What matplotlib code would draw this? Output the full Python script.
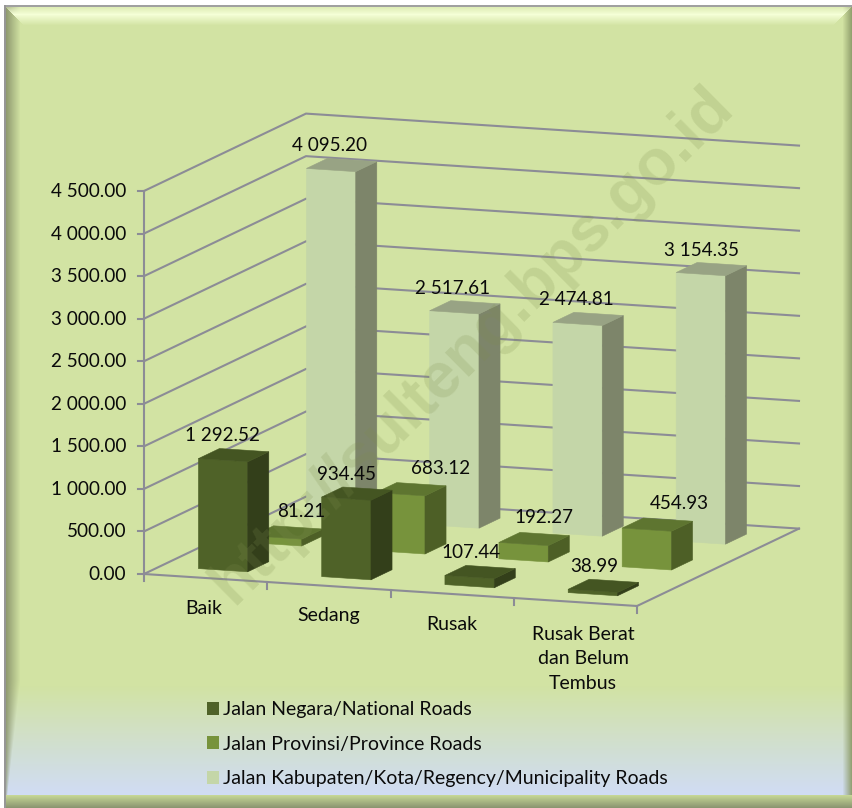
import numpy as np
import matplotlib
matplotlib.use("Agg")
import matplotlib.pyplot as plt
from matplotlib.patches import Polygon, Patch

plt.rcParams['font.family'] = ['Lato', 'DejaVu Sans']

categories = ["Baik", "Sedang", "Rusak", "Rusak Berat\ndan Belum\nTembus"]
negara = [1292.52, 934.45, 107.44, 38.99]
provinsi = [81.21, 683.12, 192.27, 454.93]
kabupaten = [4095.20, 2517.61, 2474.81, 3154.35]
series_names = ["Jalan Negara/National Roads", "Jalan Provinsi/Province Roads",
                "Jalan Kabupaten/Kota/Regency/Municipality Roads"]
y_ticks = [0, 500, 1000, 1500, 2000, 2500, 3000, 3500, 4000, 4500]

# front, side, top
colors = [("#4f6228", "#333f1a", "#445522"),
          ("#77933c", "#4d5f26", "#5e7530"),
          ("#c4d6a8", "#7d856a", "#98a384")]

# Excel moves the labels around a bit, so sideways shift is per label
label_dx = [[-10.5, -9, -8, -8], [14.5, 31, 11, 23], [-11.5, -11, -11, -9]]
label_dy = [-19.5, -21, -19]

W, H = 852, 808
ORIGIN = np.array([144.0, 574.0])
CAT = np.array([123.25, 8.0])
DEPTH = np.array([54.0, -25.8])
ZSCALE = 383.0 / 4500
BAR_W = 0.40
BAR_D = 0.39
FS = 14
FS_NUM = 13.6


def proj(c, d, v):
    p = ORIGIN + c * CAT + d * DEPTH
    return (p[0], p[1] - v * ZSCALE)


def background():
    base = np.array([210, 227, 163], dtype=float)
    blue = np.array([208, 220, 245], dtype=float)
    img = np.ones((H, W, 3)) * 255.0
    yy, xx = np.mgrid[0:H, 0:W]
    t = np.clip((yy - 685) / (795 - 685), 0, 1)[..., None]
    img = base * (1 - t) + blue * t

    # bevel strips
    left_w = np.where(yy < 680, 16.0, 16.0 - 13.0 * np.clip((yy - 680) / 115, 0, 1))
    a = np.clip(1 - (xx - 4) / left_w, 0, 1)[..., None]
    img = img * (1 - a) + np.array([135, 145, 105]) * a

    a = np.clip((xx - 842) / 10, 0, 1)[..., None]
    img = img * (1 - a) + np.array([140, 155, 105]) * a

    # top: light band
    top = np.clip(1 - np.abs(yy - 14) / 11.0, 0, 1)[..., None]
    mask = (yy < 25) & (xx - 4 > yy - 6) & (W - xx > yy - 6)
    img = np.where(mask[..., None], img * (1 - top) + np.array([245, 255, 215]) * top, img)

    # bottom: darkens towards edge
    b = np.clip((yy - 795) / 13.0, 0, 1)[..., None]
    col = np.array([197, 214, 150]) * (1 - b) + np.array([135, 145, 110]) * b
    mask = (yy >= 795) & (xx >= 4)
    img = np.where(mask[..., None], col, img)

    # outside edge
    img[:5, :] = 255
    img[5:7, 4:] = 160
    img[:, :4] = 255
    img[5:, 4:6] = 150
    return img / 255.0


fig = plt.figure(figsize=(W / 100, H / 100), dpi=100)
ax = fig.add_axes([0, 0, 1, 1])
ax.set_xlim(0, W)
ax.set_ylim(H, 0)
ax.axis('off')
ax.imshow(background(), extent=(0, W, H, 0), aspect='auto', zorder=0)

grid = "#8c8c96"
# walls
for v in y_ticks:
    ax.plot(*zip(proj(0, 0, v), proj(0, 3, v), proj(4, 3, v)), color=grid, lw=1.5, zorder=1, solid_joinstyle='miter')
    x0, y0 = proj(0, 0, v)
    ax.plot([x0 - 6, x0], [y0, y0], color=grid, lw=1.5, zorder=1)
    ax.text(126, y0 + 0.5, f"{v:,.2f}".replace(",", " "), ha='right', va='center', fontsize=FS_NUM, color='#0a0a0a', zorder=6)
ax.plot(*zip(proj(0, 0, 0), proj(0, 0, 4500)), color=grid, lw=1.5, zorder=1)
# floor
ax.plot(*zip(proj(0, 0, 0), proj(4, 0, 0), proj(4, 3, 0)), color=grid, lw=1.5, zorder=1, solid_joinstyle='miter')
for c in range(5):
    x0, y0 = proj(c, 0, 0)
    ax.plot([x0, x0], [y0, y0 + 7], color=grid, lw=1.5, zorder=1)

# category labels
cat_pos = [(204, 609), (329, 616), (452, 624), (583, 659)]
for name, pos in zip(categories, cat_pos):
    ax.text(pos[0], pos[1], name, ha='center', va='center', fontsize=FS, color='#0a0a0a', linespacing=1.52, zorder=6)


def bar(c, d, v, cols, z):
    c0 = c + 0.308
    c1 = c0 + BAR_W
    d0 = d + (1 - BAR_D) / 2
    d1 = d0 + BAR_D
    front = [proj(c0, d0, 0), proj(c1, d0, 0), proj(c1, d0, v), proj(c0, d0, v)]
    side = [proj(c1, d0, 0), proj(c1, d1, 0), proj(c1, d1, v), proj(c1, d0, v)]
    top = [proj(c0, d0, v), proj(c1, d0, v), proj(c1, d1, v), proj(c0, d1, v)]
    for pts, col in zip((front, side, top), cols):
        ax.add_patch(Polygon(pts, closed=True, fc=col, ec=col, lw=0.4, zorder=z))


all_series = [negara, provinsi, kabupaten]
z = 2.0
for d in (2, 1, 0):
    for c in range(4):
        bar(c, d, all_series[d][c], colors[d], z)
        z += 0.01

for d in range(3):
    for c in range(4):
        v = all_series[d][c]
        x0, y0 = proj(c + 0.5, d + 0.5, v)
        ax.text(x0 + label_dx[d][c], y0 + label_dy[d], f"{v:,.2f}".replace(",", " "),
                ha='center', va='center', fontsize=FS_NUM, color='#0a0a0a', zorder=6)

handles = [Patch(fc=colors[i][0], ec='none', label=series_names[i]) for i in range(3)]
leg = ax.legend(handles=handles, loc='upper left', bbox_to_anchor=(207 / W, 1 - 701 / H), frameon=False,
                fontsize=FS, handlelength=0.63, handleheight=0.63, handletextpad=0.2, labelspacing=0.91,
                borderpad=0, borderaxespad=0, labelcolor='#0a0a0a')
leg.set_zorder(6)

# watermark
ax.text(472, 345, "http://sulteng.bps.go.id", rotation=44.7, rotation_mode='anchor', ha='center', va='center',
        fontsize=46, fontweight='bold', family='Liberation Sans', color='#7f8f4f', alpha=0.2, zorder=5)

fig.savefig("out.png", dpi=100)
